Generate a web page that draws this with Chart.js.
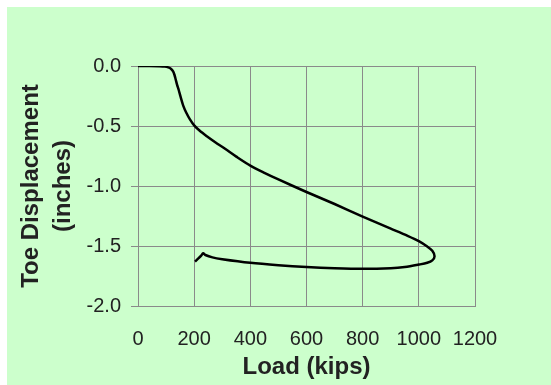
<!DOCTYPE html>
<html>
<head>
<meta charset="utf-8">
<script src="https://cdn.jsdelivr.net/npm/chart.js@4/dist/chart.umd.min.js"></script>
<style>
  html, body { margin: 0; padding: 0; background: #ffffff; }
  #wrap { position: absolute; left: 7px; top: 7px; width: 544px; height: 378px; background: #ccffcc; }
</style>
</head>
<body>
<div id="wrap"><canvas id="toeChart"></canvas></div>
<script>
// Load-displacement curve
const loadKips = [0, 40, 75, 95, 108, 118, 125, 130, 134, 139, 145, 152, 161, 172, 185, 200, 220, 245, 275, 310, 350, 400, 450, 500, 600, 700, 800, 900, 960, 1000, 1030, 1048, 1056, 1048, 1030, 1000, 950, 900, 800, 700, 600, 500, 400, 300, 265, 240, 232, 225, 212, 203];
const toeDisp = [0, 0, -0.002, -0.005, -0.012, -0.025, -0.045, -0.075, -0.11, -0.155, -0.2, -0.26, -0.33, -0.39, -0.445, -0.495, -0.54, -0.585, -0.635, -0.69, -0.755, -0.83, -0.89, -0.945, -1.05, -1.15, -1.255, -1.355, -1.415, -1.46, -1.505, -1.54, -1.585, -1.62, -1.64, -1.655, -1.675, -1.685, -1.69, -1.685, -1.675, -1.66, -1.64, -1.61, -1.595, -1.575, -1.56, -1.58, -1.61, -1.63];

const xTicks = [0, 200, 400, 600, 800, 1000, 1200];
const yTicks = [0, -0.5, -1.0, -1.5, -2.0];

document.addEventListener('DOMContentLoaded', function() {
    const ctx = document.getElementById('toeChart');
    const points = loadKips.map((x, i) => ({ x: x, y: toeDisp[i] }));
    const gridColor = '#8a8a8a';
    const textColor = '#222222';
    const fontFamily = 'Liberation Sans, Arial, sans-serif';

    new Chart(ctx, {
        type: 'scatter',
        data: {
            datasets: [{
                data: points,
                showLine: true,
                borderColor: '#000000',
                borderWidth: 2.5,
                pointRadius: 0,
                tension: 0.3,
                fill: false
            }]
        },
        options: {
            responsive: true,
            maintainAspectRatio: false,
            animation: false,
            layout: { padding: { top: 59, right: 76, left: 0, bottom: 0 } },
            plugins: {
                legend: { display: false },
                tooltip: { enabled: false }
            },
            scales: {
                x: {
                    type: 'linear',
                    min: xTicks[0],
                    max: xTicks[xTicks.length - 1],
                    afterFit: function(scale) { scale.height = 79; },
                    afterBuildTicks: function(scale) {
                        scale.ticks = xTicks.map(v => ({ value: v }));
                    },
                    grid: { color: gridColor, lineWidth: 1, drawTicks: false },
                    border: { color: gridColor, width: 1 },
                    ticks: {
                        color: textColor,
                        padding: 21,
                        maxRotation: 0,
                        font: { family: fontFamily, size: 20 },
                        callback: function(value) { return String(value); }
                    },
                    title: {
                        display: true,
                        text: 'Load (kips)',
                        color: textColor,
                        padding: { top: 0, bottom: 3 },
                        font: { family: fontFamily, size: 24, weight: 'bold', lineHeight: 1.2 }
                    }
                },
                y: {
                    type: 'linear',
                    min: -2,
                    max: 0,
                    afterFit: function(scale) { scale.width = 131; },
                    afterBuildTicks: function(scale) {
                        scale.ticks = yTicks.map(v => ({ value: v }));
                    },
                    grid: { color: gridColor, lineWidth: 1, drawTicks: true, tickLength: 7 },
                    border: { color: gridColor, width: 1 },
                    ticks: {
                        color: textColor,
                        padding: 10,
                        font: { family: fontFamily, size: 20 },
                        callback: function(value) { return Number(value).toFixed(1); }
                    },
                    title: {
                        display: true,
                        text: ['Toe Displacement', '(inches)'],
                        color: textColor,
                        padding: { top: 9, bottom: 0 },
                        font: { family: fontFamily, size: 24, weight: 'bold', lineHeight: 1.31 }
                    }
                }
            }
        }
    });
});
</script>
</body>
</html>
